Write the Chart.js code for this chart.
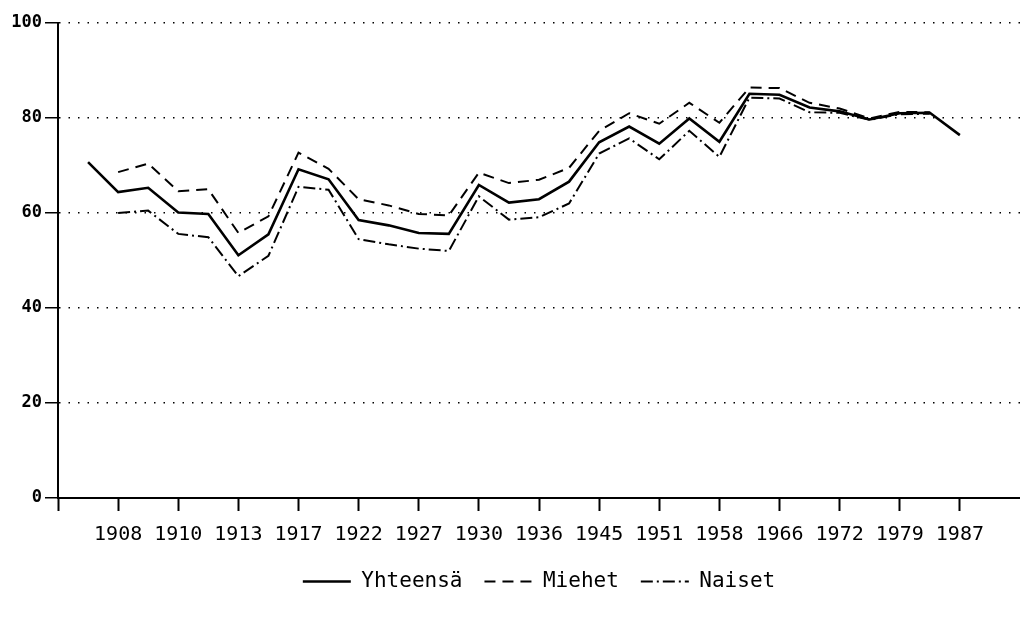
<!DOCTYPE html>
<html>
<head>
<meta charset="utf-8">
<script src="https://cdn.jsdelivr.net/npm/chart.js@4"></script>
<style>
html,body{margin:0;padding:0;background:#fff;}
#wrap{width:1020px;height:626px;}
</style>
</head>
<body>
<div id="wrap"><canvas id="c" width="1020" height="626"></canvas></div>
<script>
const years = [1907,1908,1909,1910,1911,1913,1916,1917,1919,1922,1924,1927,1929,1930,1933,1936,1939,1945,1948,1951,1954,1958,1962,1966,1970,1972,1975,1979,1983,1987];
const yhteensa = [70.7,64.4,65.3,60.1,59.8,51.1,55.5,69.2,67.1,58.5,57.4,55.8,55.6,65.9,62.2,62.9,66.6,74.9,78.2,74.6,79.9,75.0,85.1,84.9,82.2,81.4,79.7,81.0,81.1,76.4];
const miehet = [null,68.6,70.4,64.6,65.0,55.8,59.3,72.7,69.3,62.9,61.6,59.8,59.5,68.5,66.3,67.0,69.5,77.3,81.0,78.8,83.2,79.0,86.4,86.3,83.2,82.0,79.9,81.3,81.2,null];
const naiset = [null,60.0,60.5,55.6,54.9,46.7,51.0,65.5,64.9,54.5,53.4,52.5,52.0,63.5,58.6,59.1,62.0,72.5,75.7,71.3,77.3,71.8,84.3,84.1,81.2,81.1,79.6,80.8,80.9,null];
const yTicks = [0,20,40,60,80,100];
const seriesNames = ['Yhteensä','Miehet','Naiset'];

function pts(arr){
  const out = [];
  arr.forEach((v,i)=>{ if(v!==null) out.push({x:i,y:v}); });
  return out;
}
const FONT = "'DejaVu Sans Mono', 'Liberation Mono', monospace";

new Chart(document.getElementById('c'), {
  type: 'line',
  data: {
    datasets: [
      {label: seriesNames[0], data: pts(yhteensa), borderColor:'#000', backgroundColor:'#000', borderWidth:2.6, pointRadius:0, tension:0, borderJoinStyle:'miter'},
      {label: seriesNames[1], data: pts(miehet), borderColor:'#000', backgroundColor:'#000', borderWidth:2, borderDash:[11,7], pointRadius:0, tension:0},
      {label: seriesNames[2], data: pts(naiset), borderColor:'#000', backgroundColor:'#000', borderWidth:2, borderDash:[12,4,2,4], pointRadius:0, tension:0}
    ]
  },
  options: {
    responsive: false,
    animation: false,
    devicePixelRatio: 1,
    layout: {padding: {top: 23, right: 0, left: 0, bottom: 24}},
    plugins: {
      tooltip: {enabled:false},
      legend: {
        position: 'bottom',
        fullSize: false,
        labels: {
          usePointStyle: true,
          pointStyle: 'line',
          pointStyleWidth: 48,
          color: '#000',
          padding: 22,
          font: {family: FONT, size: 21},
          generateLabels: (chart) => {
            const items = Chart.defaults.plugins.legend.labels.generateLabels(chart);
            items.forEach(it => {
              const ds = chart.data.datasets[it.datasetIndex];
              it.lineDash = ds.borderDash || [];
              it.lineWidth = ds.borderWidth;
              it.strokeStyle = '#000';
              it.pointStyle = 'line';
            });
            return items;
          }
        }
      }
    },
    scales: {
      x: {
        type: 'linear',
        min: -1,
        max: 31,
        afterBuildTicks: (axis) => {
          const t = [{value:-1}];
          for (let i = 1; i < years.length; i += 2) t.push({value:i});
          axis.ticks = t;
        },
        afterFit: (axis) => { axis.height = 51; },
        ticks: {
          autoSkip: false,
          maxRotation: 0,
          color: '#000',
          padding: 12,
          font: {family: FONT, size: 20},
          callback: (v) => (v >= 0 && v < years.length) ? String(years[v]) : ''
        },
        grid: {drawOnChartArea: false, drawTicks: true, tickLength: 13, tickColor:'#000', tickWidth: 2},
        border: {display: true, color: '#000', width: 2}
      },
      y: {
        min: 0,
        max: 100,
        afterBuildTicks: (axis) => { axis.ticks = yTicks.map(v => ({value:v})); },
        afterFit: (axis) => { axis.width = 58; },
        ticks: {
          color: '#000',
          padding: 3,
          font: {family: FONT, size: 17, weight: 'bold'}
        },
        grid: {color:'#000', lineWidth: 1.5, drawTicks: true, tickLength: 13, tickColor:'#000', tickWidth: 1.5, tickBorderDash: []},
        border: {display: true, color: '#000', width: 2, dash: [1.5, 8]}
      }
    }
  }
});
</script>
</body>
</html>
